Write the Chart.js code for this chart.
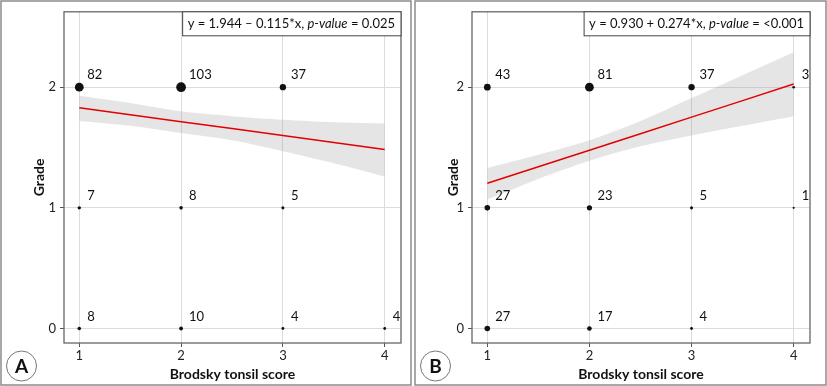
<!DOCTYPE html>
<html>
<head>
<meta charset="utf-8">
<script src="https://cdn.jsdelivr.net/npm/chart.js@4.4.0/dist/chart.umd.min.js"></script>
<style>
  html, body { margin: 0; padding: 0; background: #fff; }
  #wrap { position: relative; width: 827px; height: 386px; }
  canvas { position: absolute; top: 0; }
  #chartA { left: 0; }
  #chartB { left: 414px; }
</style>
</head>
<body>
<div id="wrap">
  <canvas id="chartA" width="412" height="386"></canvas>
  <canvas id="chartB" width="413" height="386"></canvas>
</div>
<script>
// tick labels / categories
const scores = [1, 2, 3, 4];
const gradeTicks = [0, 1, 2];

// patient counts per tonsil score, one array per grade (null = nobody)
const countsA2 = [82, 103, 37, null];
const countsA1 = [7, 8, 5, null];
const countsA0 = [8, 10, 4, 4];
const countsB2 = [43, 81, 37, 3];
const countsB1 = [27, 23, 5, 1];
const countsB0 = [27, 17, 4, null];

// regression line and confidence band
const bandX = [1, 1.5, 2, 2.5, 3, 3.5, 4];
const fitA = [1.829, 1.772, 1.714, 1.657, 1.599, 1.542, 1.484];
const upperA = [1.93, 1.87, 1.80, 1.76, 1.73, 1.71, 1.70];
const lowerA = [1.72, 1.68, 1.62, 1.56, 1.47, 1.37, 1.26];
const fitB = [1.204, 1.341, 1.478, 1.615, 1.752, 1.889, 2.026];
const upperB = [1.33, 1.44, 1.56, 1.72, 1.91, 2.10, 2.29];
const lowerB = [1.07, 1.24, 1.39, 1.51, 1.60, 1.68, 1.76];

const eqA = ['y = 1.944 \u2013 0.115*x, ', 'p-value', ' = 0.025'];
const eqB = ['y = 0.930 + 0.274*x, ', 'p-value', ' = <0.001'];

const FONT = "Lato, 'Open Sans', sans-serif";
Chart.defaults.font.family = FONT;
Chart.defaults.color = '#222';

function toPoints(byGrade) {
    const pts = [];
    byGrade.forEach(function (row) {
        row.counts.forEach(function (n, i) {
            if (n !== null) pts.push({ x: scores[i], y: row.grade, n: n });
        });
    });
    return pts;
}
function xy(ys) {
    return bandX.map(function (x, i) { return { x: x, y: ys[i] }; });
}

// frame, plot border, equation box, count labels, panel letter
const decor = {
    id: 'decor',
    afterDatasetsDraw(chart) {
        const ctx = chart.ctx;
        const meta = chart.getDatasetMeta(0);
        ctx.save();
        ctx.font = '13px ' + FONT;
        ctx.fillStyle = '#111';
        ctx.textAlign = 'left';
        ctx.textBaseline = 'middle';
        meta.data.forEach(function (el, i) {
            const n = chart.data.datasets[0].data[i].n;
            ctx.fillText(String(n), el.x + 8, el.y - 12);
        });
        ctx.restore();
    },
    afterDraw(chart, args, opts) {
        const ctx = chart.ctx;
        const a = chart.chartArea;
        ctx.save();
        // plot border
        ctx.strokeStyle = '#666';
        ctx.lineWidth = 1.3;
        ctx.strokeRect(a.left, a.top, a.right - a.left, a.bottom - a.top);

        // equation box
        const parts = opts.eq;
        const normal = '13px ' + FONT;
        const italic = 'italic 13px ' + FONT;
        let w = 0;
        parts.forEach(function (p, i) {
            ctx.font = i === 1 ? italic : normal;
            w += ctx.measureText(p).width;
        });
        const bx = a.right - w - 11;
        ctx.fillStyle = '#fff';
        ctx.fillRect(bx, a.top, a.right - bx, 24);
        ctx.strokeStyle = '#444';
        ctx.lineWidth = 1;
        ctx.strokeRect(bx, a.top, a.right - bx, 24);
        ctx.fillStyle = '#111';
        ctx.textBaseline = 'middle';
        ctx.textAlign = 'left';
        let tx = bx + 5;
        parts.forEach(function (p, i) {
            ctx.font = i === 1 ? italic : normal;
            ctx.fillText(p, tx, a.top + 12.5);
            tx += ctx.measureText(p).width;
        });

        // panel letter
        ctx.beginPath();
        ctx.arc(21.5, 366, 15, 0, Math.PI * 2);
        ctx.strokeStyle = '#777';
        ctx.lineWidth = 1;
        ctx.stroke();
        ctx.font = 'bold 19px ' + FONT;
        ctx.textAlign = 'center';
        ctx.fillText(opts.letter, 21.5, 367);

        // outer frame
        ctx.strokeStyle = '#8c8c8c';
        ctx.lineWidth = 1.5;
        ctx.strokeRect(1, 1, chart.width - 2, 384);
        ctx.restore();
    }
};

function makeChart(id, points, fit, upper, lower, eq, letter, yWidth, rightPad) {
    return new Chart(document.getElementById(id), {
        type: 'line',
        data: {
            datasets: [{
                data: points,
                showLine: false,
                pointBackgroundColor: '#111',
                pointBorderWidth: 0,
                // marker area follows the count
                pointRadius: function (c) { return 0.6 + 0.42 * Math.sqrt(c.raw.n); }
            }, {
                data: xy(fit),
                borderColor: '#e30000',
                borderWidth: 1.5,
                pointRadius: 0,
                fill: false
            }, {
                data: xy(upper),
                borderWidth: 0,
                borderColor: 'rgba(0,0,0,0)',
                pointRadius: 0,
                tension: 0.3,
                backgroundColor: 'rgba(150,150,150,0.25)',
                fill: '+1'
            }, {
                data: xy(lower),
                borderWidth: 0,
                borderColor: 'rgba(0,0,0,0)',
                pointRadius: 0,
                tension: 0.3,
                fill: false
            }]
        },
        options: {
            responsive: false,
            animation: false,
            events: [],
            layout: { padding: { left: 0, right: rightPad, top: 8, bottom: 0 } },
            plugins: {
                legend: { display: false },
                tooltip: { enabled: false },
                decor: { eq: eq, letter: letter }
            },
            scales: {
                x: {
                    type: 'linear',
                    min: 0.85,
                    max: 4.16,
                    afterBuildTicks: function (s) { s.ticks = scores.map(function (v) { return { value: v }; }); },
                    afterFit: function (s) { s.height = 43; },
                    ticks: { font: { size: 13 }, padding: 1, color: '#222' },
                    grid: { color: '#dcdcdc', tickColor: '#555', tickLength: 4 },
                    border: { display: false },
                    title: {
                        display: true, text: 'Brodsky tonsil score', color: '#111',
                        font: { size: 14, weight: 'bold' }, padding: { top: 0, bottom: 3 }
                    }
                },
                y: {
                    type: 'linear',
                    min: -0.12,
                    max: 2.625,
                    afterBuildTicks: function (s) { s.ticks = gradeTicks.map(function (v) { return { value: v }; }); },
                    afterFit: function (s) { s.width = yWidth; },
                    ticks: { font: { size: 13 }, padding: 4, color: '#222' },
                    grid: { color: '#dcdcdc', tickColor: '#555', tickLength: 4 },
                    border: { display: false },
                    title: {
                        display: true, text: 'Grade', color: '#111',
                        font: { size: 14, weight: 'bold' }, padding: { top: 31, bottom: 0 }
                    }
                }
            }
        },
        plugins: [decor]
    });
}

const pointsA = toPoints([
    { grade: 2, counts: countsA2 }, { grade: 1, counts: countsA1 }, { grade: 0, counts: countsA0 }
]);
const pointsB = toPoints([
    { grade: 2, counts: countsB2 }, { grade: 1, counts: countsB1 }, { grade: 0, counts: countsB0 }
]);

makeChart('chartA', pointsA, fitA, upperA, lowerA, eqA, 'A', 64, 11);
makeChart('chartB', pointsB, fitB, upperB, lowerB, eqB, 'B', 58, 17);
</script>
</body>
</html>
